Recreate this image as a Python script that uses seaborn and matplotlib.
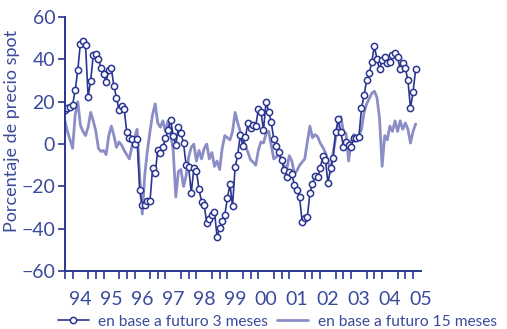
import numpy as np
import pandas as pd
import seaborn as sns
import matplotlib.pyplot as plt

# monthly values, Jan 1994 onwards (percent of spot price)
fut_3m = [16, 17, 17.6, 18.7, 25.5, 35, 47.5, 48.8, 47, 22.3, 30, 42, 42.5, 40, 36, 33,
          29.4, 35, 35.8, 27.4, 21.9, 16, 18, 16.4, 5.5, 2.7, 2.2, 0, 2.2, -21.7, -28.8,
          -28.8, -27, -26.8, -11.5, -13.8, -3, -4.4,
          -1.3, 2.7, 6.6, 11.5, 3.8, -0.5, 8.2, 5.3, 0.3, -9.9, -11, -23, -11.5, -12.6,
          -21.4, -27.2, -28.8, -37.2, -35.6, -33.5, -32, -43.8, -39.8, -36.2, -33.5,
          -25.6, -18.9, -29.3, -11, -5.2, 4.3, -0.9, 3.5, 10,
          7.4, 9, 8.5, 16.4, 15.3, 6.6, 20, 15.3, 10.5, 2.2, -0.9, -3.6, -7.6, -12.3,
          -15.4, -13.1, -14.2, -19.4, -21.7, -25.2, -36.7, -35.1, -34.6, -23, -18.9,
          -15.1, -15.7, -11.5, -5.7, -7.6, -18.3, -11.5, -6.8, 5.8, 11.7,
          5.8, -1.3, 1.1, -0.5, -1.3, 2.7, 2.7, 3.5, 16.9, 23.1, 30.2, 33.4, 38.9, 46.4,
          40, 35.3, 39.7, 41.2, 38.1, 38.9, 42, 43.1, 41.2, 35.3, 38.1, 35.8, 30.2, 16.9,
          24.7, 35.3]

fut_15m = [11, 6, 2, -2, 14, 20, 9, 6, 4, 8, 15, 11, 6, -2, -3.5, -3, -5, 4, 8.5, 4,
           -1.5, 1, -0.5, -3, -5, -7, -1, 3, 7, -15, -33, -14, -3, 6, 14, 19, 10, 8,
           11, 6, 11, 5, -3, -25, -13, -12, -20, -15, -6, -1.5, 0, -8, -3, -7, -2, 0,
           -7, -4, -10.5, -8, -12, -2, 4, 3, 2, 6, 15, 10, 6, 2, -1, -4, -7.5, -8.5,
           -10, -3, 1, 0.5, 5, 6, -0.5, -7, -6, -5, -7.5, -10, -12, -5.5, -8, -14,
           -12.5, -10, -8.5, -7, 1, 8.5, 3, 4.5, 3.5, 0.5, -1.5, -4, -8, -13.5, -4, 3,
           10, 13, 6, 5, -8, 1, 4.5, 3.5, 4, 7, 15, 19, 21.5, 24, 25, 22, 12, -10.5, 4,
           2, 8.5, 6, 11, 6, 11, 7, 10, 7, 0.5, 6, 9.5]

year_labels = ['94', '95', '96', '97', '98', '99', '00', '01', '02', '03', '04', '05']
label_3m = 'en base a futuro 3 meses'
label_15m = 'en base a futuro 15 meses'

dark = '#2a3591'
light = '#8b8dc6'
txt = '#3a4a9c'

t = 1994 + np.arange(len(fut_3m)) / 12
df = pd.DataFrame({'t': t, 'f3': fut_3m, 'f15': fut_15m})

sns.set_style('ticks')
plt.rcParams['font.family'] = ['Lato', 'DejaVu Sans']

fig = plt.figure(figsize=(5.07, 3.29), dpi=100)
ax = fig.add_axes([0.128, 0.176, 0.702, 0.772])

sns.lineplot(data=df, x='t', y='f15', color=light, linewidth=2.0, ax=ax, label=label_15m)
sns.lineplot(data=df, x='t', y='f3', color=dark, linewidth=1.2, marker='o',
             markersize=4.5, markerfacecolor='white', markeredgecolor=dark,
             markeredgewidth=1.1, ax=ax, label=label_3m)

ax.set_xlim(1994, 2005.5)
ax.set_ylim(-60, 60)
ax.set_yticks(range(-60, 61, 20))
# year labels as major ticks (no tick mark), quarterly marks as minor ticks
ax.set_xticks(np.arange(1994.5, 2005.6, 1))
ax.set_xticklabels(year_labels)
ax.set_xticks(np.arange(1994, 2005.51, 0.25), minor=True)
ax.tick_params(axis='x', which='major', length=0, pad=14, labelsize=14, labelcolor=txt)
ax.tick_params(axis='x', which='minor', length=5.5, width=1.2, color=dark, direction='out')
ax.tick_params(axis='y', length=5, width=1.2, color=dark, labelsize=14, labelcolor=txt, pad=2)
ax.set_xlabel('')
ax.set_ylabel('Porcentaje de precio spot', color=txt, fontsize=13, labelpad=4)
ax.yaxis.set_label_coords(-0.125, 0.55)

sns.despine(ax=ax)
for s in ['left', 'bottom']:
    ax.spines[s].set_color(dark)
    ax.spines[s].set_linewidth(1.4)

handles, labels = ax.get_legend_handles_labels()
ax.legend().remove()
fig.legend(handles[::-1], labels[::-1], loc='lower right', ncol=2, frameon=False,
           bbox_to_anchor=(0.998, -0.028), borderaxespad=0.2, fontsize=11.2,
           labelcolor=txt, handlelength=2.0, columnspacing=0.6, handletextpad=0.6)

fig.savefig('out.png', dpi=100)
